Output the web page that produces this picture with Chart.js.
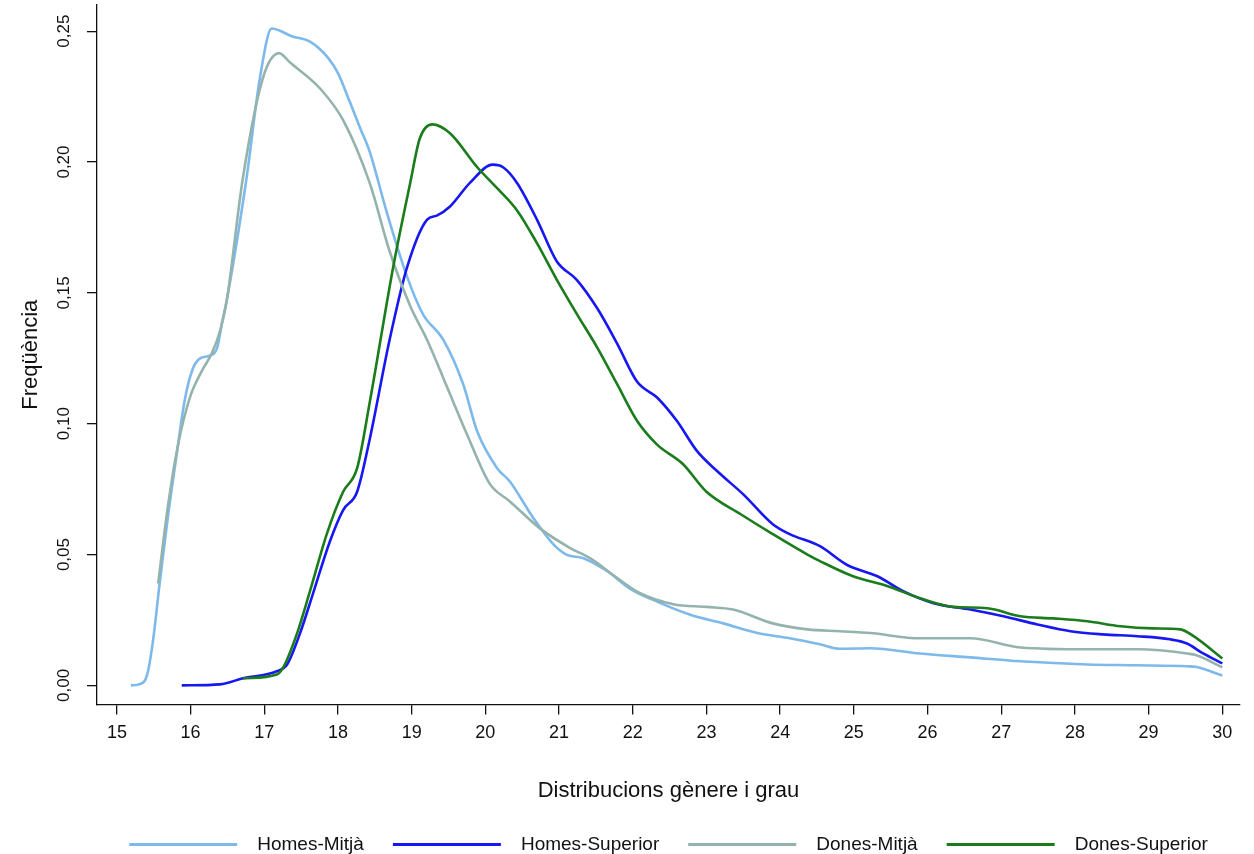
<!DOCTYPE html>
<html>
<head>
<meta charset="utf-8">
<script src="https://cdn.jsdelivr.net/npm/chart.js@4.4.1/dist/chart.umd.min.js"></script>
<style>
  html, body { margin: 0; padding: 0; background: #fff; }
  #wrap { width: 1254px; height: 854px; }
</style>
</head>
<body>
<div id="wrap"><canvas id="densityChart" width="1254" height="854"></canvas></div>
<script>
// Etiquetes
const seriesNames = ['Homes-Mitjà', 'Homes-Superior', 'Dones-Mitjà', 'Dones-Superior'];
const seriesColors = ['#7db9ea', '#1717f2', '#94b3ad', '#1b7c1b'];
const xTicks = [15, 16, 17, 18, 19, 20, 21, 22, 23, 24, 25, 26, 27, 28, 29, 30];
const yTicks = [0, 0.05, 0.10, 0.15, 0.20, 0.25];

// Homes-Mitjà
const hmX = [15.19, 15.31, 15.41, 15.49, 15.58, 15.69, 15.81, 15.92, 16.03, 16.13, 16.26, 16.36, 16.43, 16.49, 16.76, 16.94, 17.1, 17.38, 17.62, 17.86, 18.0, 18.16, 18.3, 18.43, 18.66, 18.94, 19.15, 19.43, 19.7, 19.89, 20.16, 20.33, 20.65, 20.92, 21.1, 21.33, 21.65, 21.96, 22.33, 22.78, 23.23, 23.69, 24.13, 24.54, 24.81, 25.22, 25.9, 26.58, 27.26, 28.17, 28.85, 29.52, 29.65, 30.0];
const hmY = [0, 0.0005, 0.004, 0.017, 0.039, 0.064, 0.088, 0.109, 0.121, 0.125, 0.126, 0.129, 0.139, 0.147, 0.194, 0.232, 0.251, 0.248, 0.246, 0.240, 0.234, 0.223, 0.213, 0.204, 0.181, 0.156, 0.142, 0.132, 0.115, 0.097, 0.083, 0.078, 0.064, 0.054, 0.050, 0.0486, 0.0437, 0.037, 0.032, 0.027, 0.0237, 0.020, 0.018, 0.0157, 0.014, 0.0142, 0.0122, 0.0107, 0.0092, 0.008, 0.0077, 0.0073, 0.007, 0.0038];

// Homes-Superior
const hsX = [15.88, 16.4, 16.71, 17.17, 17.31, 17.48, 17.66, 17.89, 18.07, 18.26, 18.43, 18.7, 18.94, 19.21, 19.34, 19.52, 19.79, 20.1, 20.24, 20.43, 20.7, 20.97, 21.24, 21.52, 21.79, 22.06, 22.33, 22.6, 22.87, 23.14, 23.5, 23.9, 24.13, 24.54, 24.91, 25.32, 25.67, 26.08, 26.58, 27.03, 27.49, 27.94, 28.38, 28.85, 29.29, 29.52, 29.74, 30.0];
const hsY = [0, 0.0004, 0.0027, 0.0054, 0.008, 0.0195, 0.035, 0.055, 0.067, 0.074, 0.094, 0.132, 0.160, 0.178, 0.1795, 0.183, 0.192, 0.199, 0.198, 0.192, 0.178, 0.162, 0.155, 0.144, 0.1305, 0.116, 0.110, 0.101, 0.0896, 0.082, 0.073, 0.0616, 0.0578, 0.0532, 0.046, 0.0417, 0.036, 0.0314, 0.029, 0.0264, 0.0233, 0.0207, 0.0195, 0.0188, 0.0176, 0.016, 0.0122, 0.0084];

// Dones-Mitjà
const dmX = [15.56, 15.69, 15.83, 15.99, 16.15, 16.29, 16.4, 16.49, 16.71, 16.98, 17.2, 17.35, 17.76, 18.07, 18.43, 18.7, 18.98, 19.21, 19.48, 19.75, 20.06, 20.33, 20.74, 21.15, 21.42, 21.79, 22.1, 22.55, 23.0, 23.36, 23.9, 24.37, 24.81, 25.22, 25.9, 26.58, 27.26, 28.17, 28.85, 29.52, 29.65, 30.0];
const dmY = [0.039, 0.068, 0.092, 0.110, 0.120, 0.127, 0.1355, 0.147, 0.194, 0.232, 0.2416, 0.238, 0.228, 0.216, 0.192, 0.166, 0.145, 0.132, 0.114, 0.096, 0.077, 0.0704, 0.060, 0.0525, 0.0486, 0.041, 0.0352, 0.031, 0.030, 0.029, 0.0237, 0.0214, 0.0207, 0.020, 0.018, 0.018, 0.0145, 0.0138, 0.0138, 0.0122, 0.0115, 0.0069];

// Dones-Superior
const dsX = [16.71, 17.17, 17.25, 17.44, 17.62, 17.85, 18.07, 18.26, 18.43, 18.75, 18.98, 19.11, 19.28, 19.52, 19.89, 20.16, 20.43, 20.7, 20.97, 21.24, 21.52, 21.79, 22.06, 22.33, 22.68, 23.0, 23.46, 23.9, 24.37, 24.54, 24.99, 25.45, 25.9, 26.35, 26.81, 27.26, 27.71, 28.17, 28.62, 29.06, 29.43, 29.61, 30.0];
const dsY = [0.0027, 0.0042, 0.0065, 0.0195, 0.036, 0.058, 0.074, 0.083, 0.108, 0.160, 0.192, 0.209, 0.2144, 0.211, 0.198, 0.190, 0.1815, 0.169, 0.155, 0.142, 0.129, 0.115, 0.101, 0.092, 0.0846, 0.074, 0.0655, 0.0578, 0.050, 0.0475, 0.0417, 0.038, 0.0333, 0.030, 0.0295, 0.0264, 0.0256, 0.0245, 0.0226, 0.0218, 0.0214, 0.0188, 0.0103];

const allX = [hmX, hsX, dmX, dsX];
const allY = [hmY, hsY, dmY, dsY];

const FONT = 'Liberation Sans, Arial, Helvetica, sans-serif';

function toPoints(xs, ys) {
    return xs.map((x, i) => ({ x: x, y: ys[i] }));
}

const datasets = seriesNames.map((name, i) => ({
    label: name,
    data: toPoints(allX[i], allY[i]),
    borderColor: seriesColors[i],
    backgroundColor: seriesColors[i],
    borderWidth: 2.6,
    pointRadius: 0,
    cubicInterpolationMode: 'monotone',
    fill: false,
    order: seriesNames.length - i // les últimes sèries queden a sobre
}));

const ctx = document.getElementById('densityChart').getContext('2d');

new Chart(ctx, {
    type: 'line',
    data: { datasets: datasets },
    options: {
        responsive: false,
        animation: false,
        layout: { padding: { top: 5, right: 14, left: 0, bottom: -10 } },
        plugins: {
            tooltip: { enabled: false },
            legend: {
                position: 'bottom',
                fullSize: false,
                labels: {
                    font: { family: FONT, size: 19 },
                    color: '#111',
                    boxWidth: 108,
                    boxHeight: 3,
                    padding: 29,
                    sort: (a, b) => a.datasetIndex - b.datasetIndex,
                    generateLabels: (chart) => {
                        const items = Chart.defaults.plugins.legend.labels.generateLabels(chart);
                        items.forEach(it => {
                            it.fillStyle = seriesColors[it.datasetIndex];
                            it.lineWidth = 0;
                            it.text = '  ' + it.text;
                        });
                        return items;
                    }
                }
            }
        },
        scales: {
            x: {
                type: 'linear',
                min: 14.73,
                max: 30.24,
                afterBuildTicks: (scale) => { scale.ticks = xTicks.map(v => ({ value: v })); },
                afterFit: (scale) => { scale.height = 101.5; },
                border: { display: true, color: '#111', width: 1.3 },
                grid: { drawOnChartArea: false, drawTicks: true, tickLength: 10, color: '#111', lineWidth: 1.3 },
                ticks: {
                    font: { family: FONT, size: 18 },
                    color: '#111',
                    padding: 8,
                    maxRotation: 0,
                    autoSkip: false
                },
                title: {
                    display: true,
                    text: 'Distribucions gènere i grau',
                    font: { family: FONT, size: 22 },
                    color: '#111',
                    padding: { top: 0, bottom: 2 }
                }
            },
            y: {
                type: 'linear',
                min: -0.0073,
                max: 0.26,
                afterBuildTicks: (scale) => { scale.ticks = yTicks.map(v => ({ value: v })); },
                afterFit: (scale) => {
                    scale.width = 97;
                    scale.paddingTop = 0;
                    scale.paddingBottom = 0;
                },
                border: { display: true, color: '#111', width: 1.3 },
                grid: { drawOnChartArea: false, drawTicks: true, tickLength: 10, color: '#111', lineWidth: 1.3 },
                ticks: {
                    font: { family: FONT, size: 17 },
                    color: '#111',
                    padding: 6,
                    minRotation: 90,
                    maxRotation: 90,
                    crossAlign: 'center',
                    autoSkip: false,
                    callback: (v) => Number(v).toFixed(2).replace('.', ',')
                },
                title: {
                    display: true,
                    text: 'Freqüència',
                    font: { family: FONT, size: 22 },
                    color: '#111',
                    padding: { top: 18, bottom: 0 }
                }
            }
        }
    }
});
</script>
</body>
</html>
